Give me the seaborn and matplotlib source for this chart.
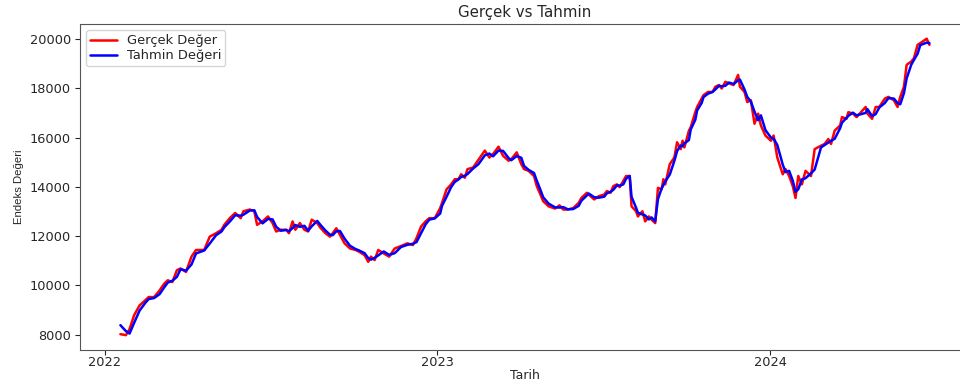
import matplotlib
matplotlib.use("Agg")
import matplotlib.pyplot as plt
import matplotlib.dates as mdates
import pandas as pd
import seaborn as sns

# Weekly-ish index readings: actual values and model predictions
dates = [
    "2022-01-18", "2022-01-24", "2022-01-28", "2022-02-02", "2022-02-08", "2022-02-14", "2022-02-18", "2022-02-24", "2022-03-02", "2022-03-07",
    "2022-03-11", "2022-03-16", "2022-03-21", "2022-03-25", "2022-03-31", "2022-04-06", "2022-04-11", "2022-04-20", "2022-04-26", "2022-05-03",
    "2022-05-09", "2022-05-12", "2022-05-18", "2022-05-24", "2022-05-30", "2022-06-02", "2022-06-09", "2022-06-14", "2022-06-17", "2022-06-23",
    "2022-06-29", "2022-07-04", "2022-07-08", "2022-07-13", "2022-07-19", "2022-07-22", "2022-07-26", "2022-07-29", "2022-08-03", "2022-08-08",
    "2022-08-12", "2022-08-16", "2022-08-22", "2022-08-26", "2022-08-31", "2022-09-05", "2022-09-08", "2022-09-12", "2022-09-16", "2022-09-21",
    "2022-09-27", "2022-10-03", "2022-10-07", "2022-10-13", "2022-10-17", "2022-10-20", "2022-10-24", "2022-10-28", "2022-11-03", "2022-11-09",
    "2022-11-15", "2022-11-22", "2022-11-29", "2022-12-05", "2022-12-09", "2022-12-14", "2022-12-19", "2022-12-23", "2022-12-29", "2023-01-04",
    "2023-01-06", "2023-01-11", "2023-01-16", "2023-01-20", "2023-01-24", "2023-01-27", "2023-01-31", "2023-02-03", "2023-02-09", "2023-02-15",
    "2023-02-22", "2023-02-27", "2023-03-03", "2023-03-09", "2023-03-14", "2023-03-20", "2023-03-23", "2023-03-29", "2023-04-03", "2023-04-06",
    "2023-04-11", "2023-04-17", "2023-04-20", "2023-04-24", "2023-04-27", "2023-05-03", "2023-05-10", "2023-05-15", "2023-05-19", "2023-05-24",
    "2023-05-30", "2023-06-05", "2023-06-08", "2023-06-14", "2023-06-16", "2023-06-22", "2023-06-27", "2023-07-03", "2023-07-06", "2023-07-10",
    "2023-07-13", "2023-07-17", "2023-07-20", "2023-07-24", "2023-07-27", "2023-07-31", "2023-08-02", "2023-08-07", "2023-08-09", "2023-08-14",
    "2023-08-17", "2023-08-21", "2023-08-24", "2023-08-28", "2023-08-31", "2023-09-04", "2023-09-06", "2023-09-08", "2023-09-13", "2023-09-18",
    "2023-09-21", "2023-09-25", "2023-09-27", "2023-09-29", "2023-10-04", "2023-10-06", "2023-10-11", "2023-10-13", "2023-10-18", "2023-10-20",
    "2023-10-25", "2023-10-30", "2023-11-02", "2023-11-06", "2023-11-09", "2023-11-13", "2023-11-17", "2023-11-22", "2023-11-27", "2023-11-29",
    "2023-12-04", "2023-12-07", "2023-12-11", "2023-12-15", "2023-12-19", "2023-12-22", "2023-12-27", "2024-01-02", "2024-01-05", "2024-01-09",
    "2024-01-15", "2024-01-18", "2024-01-22", "2024-01-26", "2024-01-29", "2024-02-01", "2024-02-05", "2024-02-09", "2024-02-15", "2024-02-19",
    "2024-02-26", "2024-03-01", "2024-03-05", "2024-03-08", "2024-03-12", "2024-03-18", "2024-03-20", "2024-03-25", "2024-03-27", "2024-04-01",
    "2024-04-05", "2024-04-15", "2024-04-17", "2024-04-22", "2024-04-26", "2024-04-30", "2024-05-06", "2024-05-10", "2024-05-16", "2024-05-20",
    "2024-05-23", "2024-05-27", "2024-05-30", "2024-06-04", "2024-06-07", "2024-06-11", "2024-06-14", "2024-06-21", "2024-06-24",
]

gercek = [
    8025, 7985, 8230, 8790, 9190, 9390, 9530, 9530, 9800, 10070,
    10210, 10140, 10620, 10690, 10550, 11170, 11440, 11440, 11980, 12120,
    12260, 12460, 12730, 12940, 12730, 13010, 13080, 13010, 12460, 12600,
    12800, 12530, 12190, 12260, 12260, 12120, 12600, 12260, 12530, 12260,
    12190, 12670, 12530, 12320, 12120, 11980, 12120, 12320, 12050, 11710,
    11500, 11440, 11370, 11230, 10960, 11170, 11030, 11440, 11300, 11170,
    11500, 11600, 11710, 11640, 11920, 12390, 12600, 12730, 12730, 13140,
    13350, 13900, 14100, 14310, 14310, 14510, 14370, 14720, 14780, 15100,
    15470, 15190, 15330, 15630, 15260, 15060, 15120, 15400, 14920, 14720,
    14650, 14440, 14030, 13690, 13420, 13210, 13120, 13250, 13080, 13080,
    13140, 13350, 13550, 13760, 13690, 13490, 13620, 13690, 13830, 13760,
    14030, 14100, 13990, 14240, 14440, 14440, 13210, 13010, 12800, 13010,
    12600, 12800, 12670, 12530, 13960, 13900, 14310, 14100, 14920, 15190,
    15810, 15530, 15870, 15600, 16280, 16420, 17030, 17240, 17580, 17720,
    17850, 17850, 18060, 18130, 17990, 18260, 18200, 18130, 18540, 18060,
    17850, 17440, 17510, 16560, 16970, 16490, 16080, 15870, 16080, 15190,
    14510, 14720, 14440, 14030, 13550, 14440, 14100, 14650, 14440, 15530,
    15670, 15740, 15940, 15740, 16280, 16490, 16830, 16760, 17030, 16970,
    16830, 17240, 16970, 16760, 17240, 17240, 17580, 17650, 17510, 17240,
    17650, 18060, 18950, 19080, 19220, 19760, 19830, 20010, 19760,
]

tahmin = [
    8390, 8150, 8050, 8480, 8980, 9280, 9450, 9490, 9650, 9920,
    10120, 10190, 10350, 10660, 10600, 10850, 11300, 11420, 11700, 12040,
    12190, 12360, 12590, 12850, 12830, 12870, 13040, 13050, 12780, 12520,
    12700, 12680, 12380, 12220, 12250, 12200, 12330, 12450, 12380, 12420,
    12220, 12400, 12620, 12440, 12230, 12060, 12040, 12200, 12210, 11900,
    11610, 11480, 11420, 11310, 11110, 11050, 11120, 11220, 11380, 11240,
    11310, 11560, 11650, 11690, 11760, 12120, 12480, 12670, 12720, 12920,
    13230, 13600, 13990, 14200, 14300, 14400, 14450, 14520, 14740, 14920,
    15280, 15350, 15240, 15470, 15460, 15170, 15080, 15250, 15180, 14850,
    14690, 14560, 14250, 13880, 13580, 13320, 13170, 13160, 13180, 13090,
    13100, 13230, 13440, 13650, 13730, 13580, 13560, 13600, 13740, 13800,
    13880, 14060, 14050, 14100, 14330, 14440, 13600, 13150, 12950, 12880,
    12840, 12680, 12760, 12600, 13500, 13930, 14080, 14220, 14500, 15050,
    15450, 15680, 15650, 15760, 15900, 16330, 16720, 17100, 17400, 17640,
    17780, 17850, 17950, 18100, 18080, 18100, 18230, 18170, 18320, 18350,
    17950, 17650, 17460, 17050, 16700, 16900, 16300, 16000, 15950, 15700,
    14900, 14600, 14650, 14250, 13800, 13900, 14300, 14350, 14550, 14700,
    15600, 15700, 15800, 15870, 15950, 16380, 16600, 16800, 16880, 17010,
    16900, 17000, 17150, 16870, 16950, 17220, 17400, 17600, 17580, 17400,
    17350, 17800, 18400, 18950, 19150, 19400, 19750, 19850, 19830,
]

df = pd.DataFrame({
    "Tarih": pd.to_datetime(dates),
    "Gercek": gercek,
    "Tahmin": tahmin,
})

sns.set_style("ticks")
plt.rcParams["font.family"] = ["DejaVu Sans"]

fig = plt.figure(figsize=(9.6, 3.81), dpi=100)
ax = fig.add_axes([0.0833, 0.0814, 0.927, 0.856])

sns.lineplot(data=df, x="Tarih", y="Gercek", color="red", linewidth=1.8,
             label="Gerçek Değer", ax=ax)
sns.lineplot(data=df, x="Tarih", y="Tahmin", color="blue", linewidth=1.8,
             label="Tahmin Değeri", ax=ax)

ax.xaxis.set_major_locator(mdates.YearLocator())
ax.xaxis.set_major_formatter(mdates.DateFormatter("%Y"))

for side in ("left", "bottom", "top", "right"):
    ax.spines[side].set_color("#555555")

ax.set_title("Gerçek vs Tahmin", fontsize=10.8, pad=5)
ax.set_xlabel("Tarih", fontsize=9, labelpad=0)
ax.set_ylabel("Endeks Değeri", fontsize=8.2, family=["Liberation Sans", "DejaVu Sans"])
ax.tick_params(axis="x", labelsize=9.3, length=3.5, pad=1)
ax.tick_params(axis="y", labelsize=9.3, length=3.5, pad=3)
ax.legend(loc="upper left", fontsize=9.4, labelspacing=0.15, borderpad=0.3,
          handletextpad=0.8)

fig.savefig("out.png", dpi=100)
